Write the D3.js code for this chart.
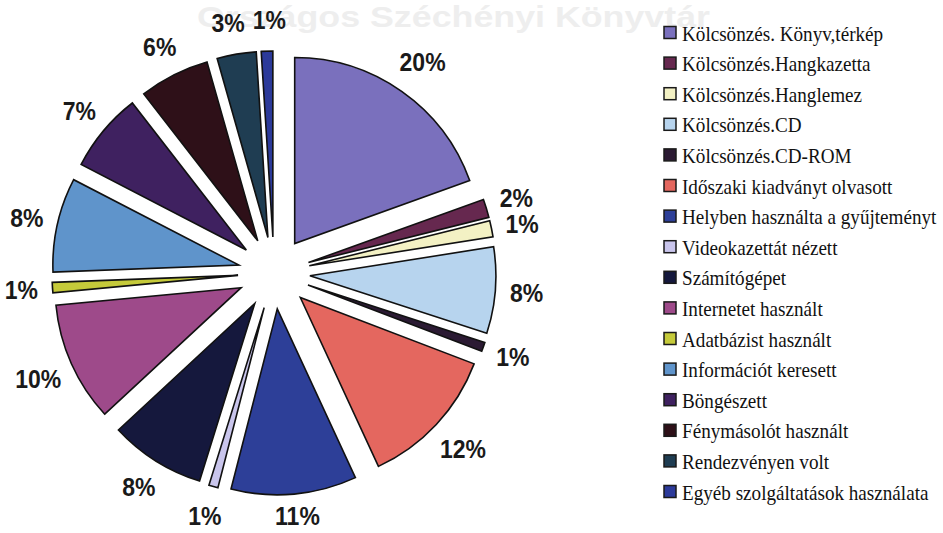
<!DOCTYPE html>
<html>
<head>
<meta charset="utf-8">
<script src="https://cdn.jsdelivr.net/npm/d3@7"></script>
<style>
  html, body { margin: 0; padding: 0; background: #ffffff; }
  svg { display: block; }
</style>
</head>
<body>
<svg id="chart" width="943" height="533"></svg>
<script>
// ---- data ----
const categories = [
  "Kölcsönzés. Könyv,térkép",
  "Kölcsönzés.Hangkazetta",
  "Kölcsönzés.Hanglemez",
  "Kölcsönzés.CD",
  "Kölcsönzés.CD-ROM",
  "Időszaki kiadványt olvasott",
  "Helyben használta a gyűjteményt",
  "Videokazettát nézett",
  "Számítógépet",
  "Internetet használt",
  "Adatbázist használt",
  "Információt keresett",
  "Böngészett",
  "Fénymásolót használt",
  "Rendezvényen volt",
  "Egyéb szolgáltatások használata"
];
const values = [19.5, 1.6, 1.4, 7.5, 0.8, 12.3, 10.9, 0.8, 8.3, 10.4, 0.9, 8.2, 6.9, 6.1, 3.4, 1.0];
const colors = [
  "#7a70bd", "#66284f", "#f3f1c4", "#b7d4ee", "#2b1a33", "#e4675f", "#2d3f98", "#c9c5ec",
  "#15183d", "#9e4a8a", "#c5ca3a", "#5f94cb", "#3f2160", "#2e1018", "#1f3d52", "#2c3a9a"
];
const watermark = "Országos Széchényi Könyvtár";

// ---- layout ----
const W = 943, H = 533;
const cx = 274, cy = 273, R = 186, explode = 36;

const svg = d3.select("#chart");
svg.append("rect").attr("width", W).attr("height", H).attr("fill", "#ffffff");

// faint scanned watermark title
svg.append("text")
  .attr("x", 197).attr("y", 27)
  .attr("textLength", 513).attr("lengthAdjust", "spacingAndGlyphs")
  .attr("font-family", "'Liberation Sans', Arial, sans-serif")
  .attr("font-weight", "bold").attr("font-size", 30)
  .attr("fill", "#eeeeee")
  .text(watermark);

// ---- pie ----
const pie = d3.pie().sort(null).value(d => d)(values);
const arc = d3.arc().innerRadius(0).outerRadius(R);
const mid = d => (d.startAngle + d.endAngle) / 2;

const g = svg.append("g").attr("transform", `translate(${cx},${cy})`);
g.selectAll("path.slice").data(pie).join("path")
  .attr("class", "slice")
  .attr("d", arc)
  .attr("transform", d => `translate(${Math.sin(mid(d)) * explode},${-Math.cos(mid(d)) * explode})`)
  .attr("fill", (d, i) => colors[i])
  .attr("stroke", "#111")
  .attr("stroke-width", 1.6)
  .attr("stroke-linejoin", "miter");

// percentage labels
const SX = 0.92, LH = 22;
const lbl = g.selectAll("g.lbl").data(pie).join("g").attr("class", "lbl");
lbl.append("text")
  .attr("text-anchor", "middle")
  .attr("dy", "0.36em")
  .attr("font-family", "'Liberation Sans', Arial, sans-serif")
  .attr("font-weight", "bold")
  .attr("font-size", 25)
  .attr("fill", "#1a1a1a")
  .text(d => Math.round(d.value) + "%");

// initial positions along each slice's mid-angle
const boxes = [];
lbl.each(function(d) {
  const w = d3.select(this).select("text").node().getComputedTextLength() * SX;
  const r = 240 + 0.4 * w;
  const a = mid(d);
  boxes.push({ node: this, x: Math.sin(a) * r, y: -Math.cos(a) * r, w: w, h: LH });
});
// keep labels inside the picture
boxes.forEach(b => {
  b.y = Math.min(b.y, H - cy - 17);
  b.y = Math.max(b.y, -cy + 16);
});
// simple collision relaxation (push overlapping labels apart)
for (let it = 0; it < 40; it++) {
  for (let i = 0; i < boxes.length; i++) {
    for (let j = i + 1; j < boxes.length; j++) {
      const a = boxes[i], b = boxes[j];
      const ox = (a.w + b.w) / 2 + 8 - Math.abs(a.x - b.x);
      const oy = (a.h + b.h) / 2 + 4 - Math.abs(a.y - b.y);
      if (ox > 0 && oy > 0) {
        if (ox < oy) {
          const s = a.x < b.x ? -1 : 1;
          a.x += s * ox / 2; b.x -= s * ox / 2;
        } else {
          const s = a.y < b.y ? -1 : 1;
          a.y += s * oy / 2; b.y -= s * oy / 2;
        }
      }
    }
  }
}
boxes.forEach(b => d3.select(b.node).attr("transform", `translate(${b.x},${b.y}) scale(${SX},1)`));

// ---- legend ----
const ly = d3.scalePoint().domain(categories).range([33, 492]);
const leg = svg.append("g").selectAll("g").data(categories).join("g")
  .attr("transform", d => `translate(664,${ly(d)})`);
leg.append("rect")
  .attr("x", 0).attr("y", -6.5).attr("width", 12).attr("height", 12)
  .attr("fill", (d, i) => colors[i])
  .attr("stroke", "#1a1a1a").attr("stroke-width", 1.5);
leg.append("text")
  .attr("transform", "translate(18,0) scale(0.89,1)")
  .attr("dy", "0.35em")
  .attr("font-family", "'Liberation Serif', 'Times New Roman', serif")
  .attr("font-size", 21.5)
  .attr("fill", "#111")
  .text(d => d);
</script>
</body>
</html>
